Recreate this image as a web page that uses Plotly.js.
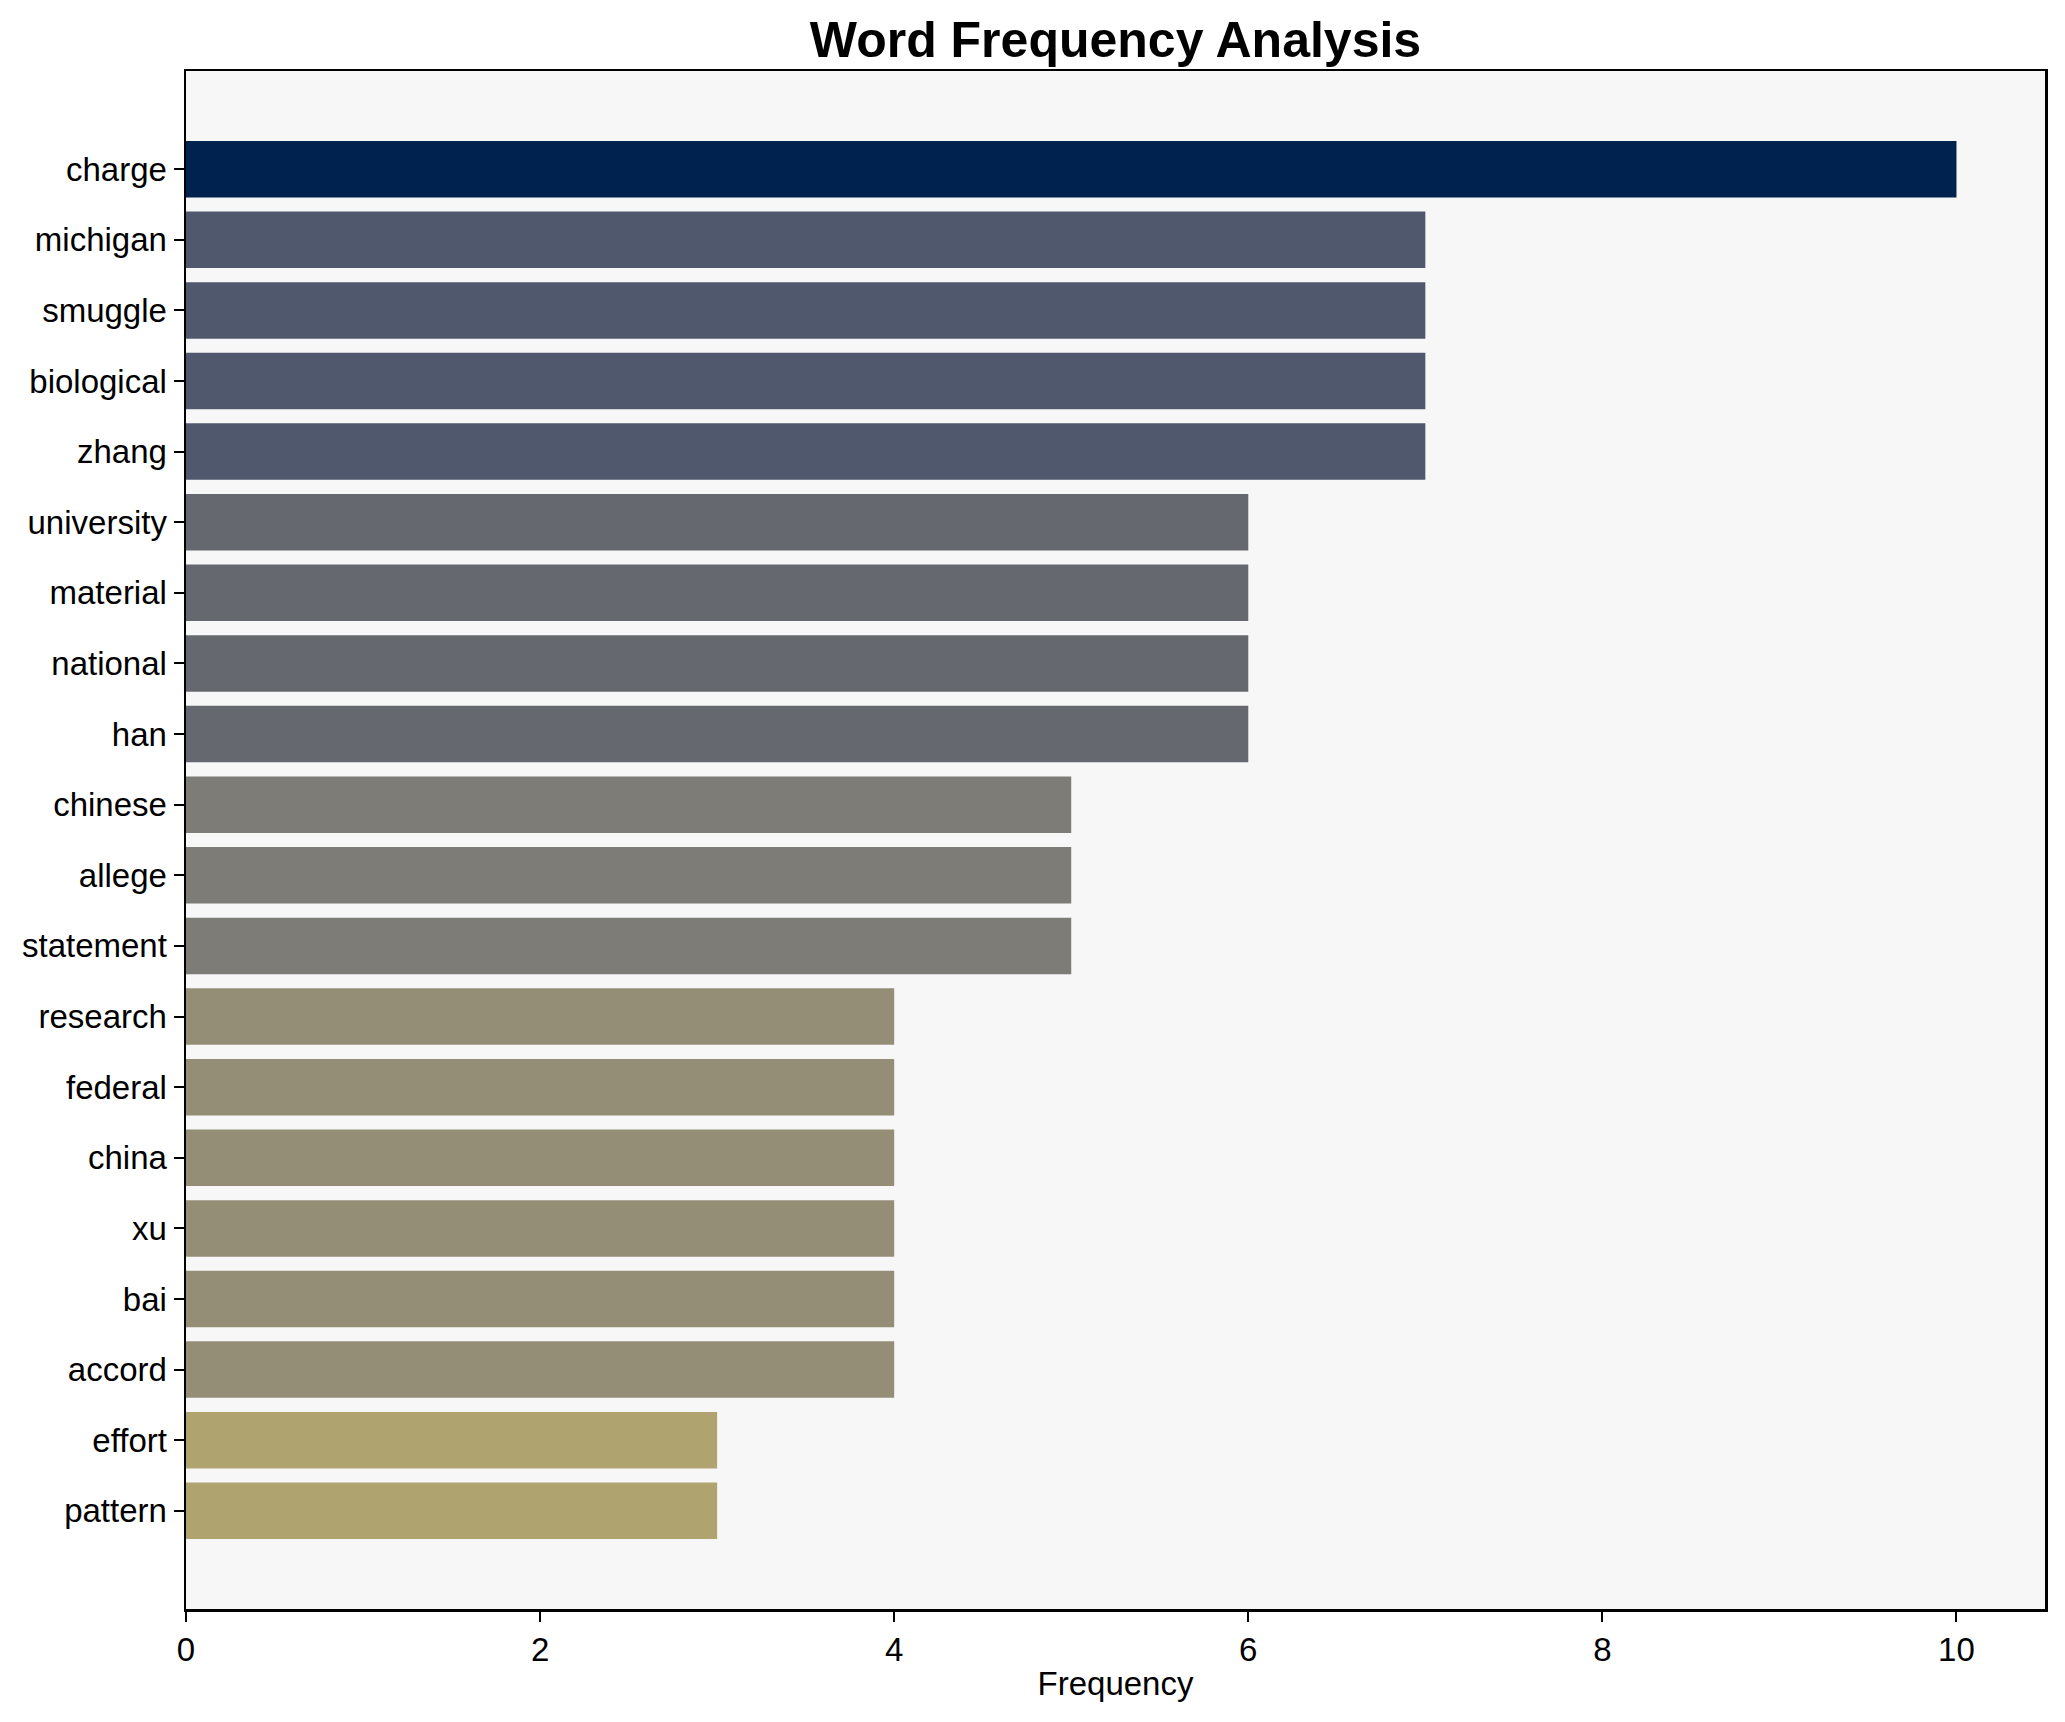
<!DOCTYPE html>
<html>
<head>
<meta charset="utf-8">
<script src="https://cdn.plot.ly/plotly-3.0.1.min.js"></script>
<style>html,body{margin:0;padding:0;background:#fff;}#chart{width:2065px;height:1722px;}</style>
</head>
<body>
<div id="chart"></div>
<script>
const words = ["charge","michigan","smuggle","biological","zhang","university","material","national","han","chinese","allege","statement","research","federal","china","xu","bai","accord","effort","pattern"];
const frequencies = [10,7,7,7,7,6,6,6,6,5,5,5,4,4,4,4,4,4,3,3];
const barColors = ["#00224e","#4f586c","#4f586c","#4f586c","#4f586c","#666870","#666870","#666870","#666870","#7d7c76","#7d7c76","#7d7c76","#958e77","#958e77","#958e77","#958e77","#958e77","#958e77","#afa36f","#afa36f"];
const xTicks = [0,2,4,6,8,10];

const font = "Liberation Sans, Arial, sans-serif";
const trace = {
  type: "bar",
  orientation: "h",
  x: frequencies,
  y: words,
  marker: {color: barColors, line: {width: 0}},
  hoverinfo: "x+y"
};
const layout = {
  width: 2065, height: 1722,
  margin: {l: 186, r: 20, t: 71, b: 113},
  paper_bgcolor: "#ffffff",
  plot_bgcolor: "#f7f7f7",
  bargap: 0.2,
  showlegend: false,
  font: {family: font, color: "#000", size: 33},
  title: {text: "<b>Word Frequency Analysis</b>", font: {family: font, size: 50, color: "#000"},
          x: 0.5, xanchor: "center", xref: "paper", y: 1 - 39/1722, yanchor: "middle", yref: "container"},
  xaxis: {
    range: [0, 10.5], tickvals: xTicks, ticktext: xTicks.map(String),
    showgrid: false, zeroline: false,
    showline: true, mirror: true, linecolor: "#000", linewidth: 2.5,
    ticks: "outside", ticklen: 10, tickwidth: 2, tickcolor: "#000",
    tickfont: {family: font, size: 33},
    title: {text: "Frequency", font: {family: font, size: 33}, standoff: 5}
  },
  yaxis: {
    type: "category", categoryorder: "array", categoryarray: words,
    range: [20.39, -1.39],
    showgrid: false, zeroline: false,
    showline: true, mirror: true, linecolor: "#000", linewidth: 2.5,
    ticks: "outside", ticklen: 10, tickwidth: 2, tickcolor: "#000",
    tickfont: {family: font, size: 33}
  }
};
Plotly.newPlot("chart", [trace], layout, {displayModeBar: false, staticPlot: true});
</script>
</body>
</html>
